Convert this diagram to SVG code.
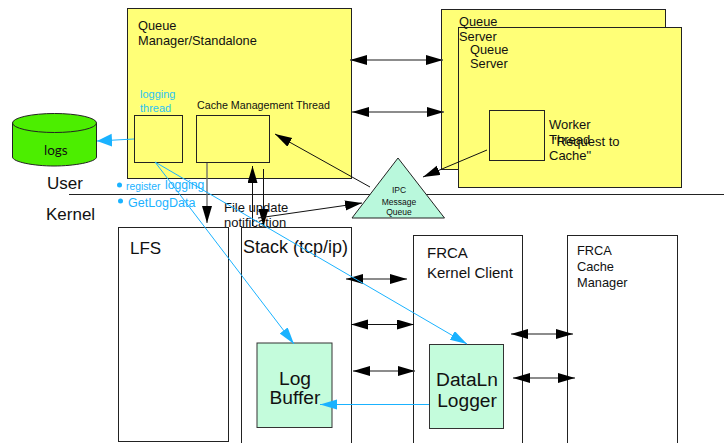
<svg xmlns="http://www.w3.org/2000/svg" width="724" height="443" viewBox="0 0 724 443">
<style>
text{font-family:"Liberation Sans",Arial,sans-serif;fill:#111}
.y{fill:#ffff77;stroke:#222;stroke-width:1}
.w{fill:#fff;stroke:#222;stroke-width:1}
.g{fill:#c4fcdc;stroke:#333;stroke-width:1}
.k{stroke:#111;stroke-width:1;fill:none}
.kb{stroke:#666;stroke-width:1.3;fill:none}
.b{stroke:#1ab2ff;stroke-width:1;fill:none}
.f12{font-size:12.800px}.f13{font-size:13px}.f15{font-size:15px}.f17{font-size:17px}.f18{font-size:18px}
.f19{font-size:19.200px}.f8{font-size:8.500px}.cm{font-size:10.700px}
.t{fill:#2cc4f4;font-size:11px}
.c{fill:#1ab2ff}
</style>
<defs>
<marker id="a" markerUnits="userSpaceOnUse" markerWidth="18" markerHeight="12" refX="17" refY="5" orient="auto-start-reverse"><path d="M0 0L17 5L0 10Z" fill="#000"/></marker>
<marker id="s" markerUnits="userSpaceOnUse" markerWidth="18" markerHeight="12" refX="17" refY="5" orient="auto-start-reverse"><path d="M0 0L17 5L0 10Z" fill="#1ab2ff"/></marker>
<marker id="w" markerUnits="userSpaceOnUse" markerWidth="16" markerHeight="14" refX="15" refY="6.500" orient="auto"><path d="M0 0L15 6.500L0 13Z" fill="#1ab2ff"/></marker>
</defs>
<g id="line-user-kernel"><line x1="69" y1="194.500" x2="724" y2="194.500" stroke="#222" stroke-width="1"/></g>
<g id="queue-manager"><rect class="y" x="127.500" y="8.500" width="224" height="170"/><text class="f12" x="138" y="30">Queue</text><text class="f12" x="138" y="45">Manager/Standalone</text></g>
<g id="logging-thread"><rect class="y" x="134.500" y="115.500" width="48" height="47"/><text class="t" x="140" y="98">logging</text><text class="t" x="140" y="112">thread</text></g>
<g id="cache-thread"><rect class="y" x="196.500" y="115.500" width="73" height="47"/><text class="cm" x="197" y="109">Cache Management Thread</text></g>
<g id="queue-server-back"><rect class="y" x="441.500" y="9.500" width="224" height="160"/></g>
<g id="queue-server-front"><rect class="y" x="458.500" y="27.500" width="223" height="160"/><text class="f12" x="470" y="54">Queue</text><text class="f12" x="470" y="68">Server</text></g>
<g id="queue-server-back-label"><text class="f12" x="459" y="26">Queue</text><text class="f12" x="459" y="41">Server</text></g>
<g id="worker-thread"><rect class="y" x="489.500" y="110.500" width="55" height="50"/><text class="f13" x="549" y="129">Worker</text><text class="f13" x="549" y="144">Thread</text><text class="f13" x="552" y="146">"Request to</text><text class="f13" x="549" y="160">Cache"</text></g>
<g id="logs"><path d="M12.500 123V157C12.500 162 34 166 54 166S96.500 162 96.500 157V123Z" fill="#4cee00" stroke="#222"/><ellipse cx="54.500" cy="123" rx="42" ry="9.500" fill="#4cee00" stroke="#222"/><text style="font-family:Lato,sans-serif;font-size:13.500px" x="44" y="155">logs</text></g>
<g id="ipc-queue"><path d="M398 158L444.500 218H352Z" fill="#b9f8dc" stroke="#222"/><text class="f8" text-anchor="middle" x="399" y="193">IPC</text><text class="f8" text-anchor="middle" x="399" y="204.500">Message</text><text class="f8" text-anchor="middle" x="399" y="215">Queue</text></g>
<g id="lfs"><rect class="w" x="118.500" y="227.500" width="110" height="214"/><text class="f17" x="130" y="254">LFS</text></g>
<g id="stack"><rect class="w" x="241.500" y="227.500" width="110" height="220"/><text class="f18" x="243" y="253">Stack (tcp/ip)</text></g>
<g id="frca-client"><rect class="w" x="413.500" y="235.500" width="109" height="212"/><text class="f15" x="427" y="258">FRCA</text><text class="f15" x="427" y="278">Kernel Client</text></g>
<g id="frca-cache"><rect class="w" x="567.500" y="235.500" width="110" height="212"/><text class="f12" x="577" y="255">FRCA</text><text class="f12" x="577" y="271">Cache</text><text class="f12" x="577" y="287">Manager</text></g>
<g id="log-buffer"><rect class="g" x="257" y="343" width="75" height="84.500"/><text class="f19" text-anchor="middle" x="295" y="385">Log</text><text class="f19" text-anchor="middle" x="295" y="404">Buffer</text></g>
<g id="dataln-logger"><rect class="g" x="429.500" y="344.500" width="74" height="84"/><text class="f19" text-anchor="middle" x="467" y="386">DataLn</text><text class="f19" text-anchor="middle" x="467" y="407">Logger</text></g>
<g id="labels"><circle class="c" cx="119.500" cy="185" r="2.500"/><circle class="c" cx="120.500" cy="201" r="2.500"/><text style="fill:#1ab2ff;font-size:10.300px" x="126" y="190">register</text><text style="fill:#1ab2ff;font-size:12.200px" x="165" y="189">logging</text><text style="fill:#1ab2ff;font-size:12.500px" x="128" y="207">GetLogData</text><text class="f13" x="224" y="212">File update</text><text class="f13" x="224" y="227">notification</text><text class="f17" x="47" y="189">User</text><text class="f17" x="46" y="220">Kernel</text></g>
<g id="connectors">
<line class="kb" x1="350" y1="60" x2="443" y2="60" marker-start="url(#a)" marker-end="url(#a)"/>
<line class="kb" x1="352" y1="112" x2="444" y2="112" marker-start="url(#a)" marker-end="url(#a)"/>
<line class="kb" x1="346" y1="279" x2="407" y2="279" marker-start="url(#a)" marker-end="url(#a)"/>
<line class="k" x1="351" y1="324.500" x2="414" y2="324.500" marker-start="url(#a)" marker-end="url(#a)"/>
<line class="kb" x1="353" y1="371" x2="415" y2="371" marker-start="url(#a)" marker-end="url(#a)"/>
<line class="kb" x1="511" y1="334" x2="573" y2="334" marker-start="url(#a)" marker-end="url(#a)"/>
<line class="kb" x1="513" y1="378" x2="575" y2="378" marker-start="url(#a)" marker-end="url(#a)"/>
<line class="kb" x1="207" y1="163" x2="207" y2="223" marker-end="url(#a)"/>
<line class="k" x1="252.500" y1="166" x2="252.500" y2="226" marker-start="url(#a)"/>
<line class="k" x1="263.500" y1="169" x2="263.500" y2="226" marker-end="url(#a)"/>
<line class="k" x1="258" y1="218" x2="362" y2="203" marker-end="url(#a)"/>
<line class="k" x1="370" y1="187" x2="275" y2="134" marker-end="url(#a)"/>
<line class="k" x1="487" y1="150" x2="423" y2="177" marker-end="url(#a)"/>
<line class="b" x1="134" y1="139" x2="97" y2="141" marker-end="url(#w)"/>
<line class="b" x1="155" y1="162" x2="294" y2="344" marker-end="url(#s)"/>
<line class="b" x1="155" y1="162" x2="467" y2="344" marker-end="url(#s)"/>
<line class="b" x1="429" y1="404.500" x2="320" y2="404.500" marker-end="url(#s)"/>
</g>
</svg>
